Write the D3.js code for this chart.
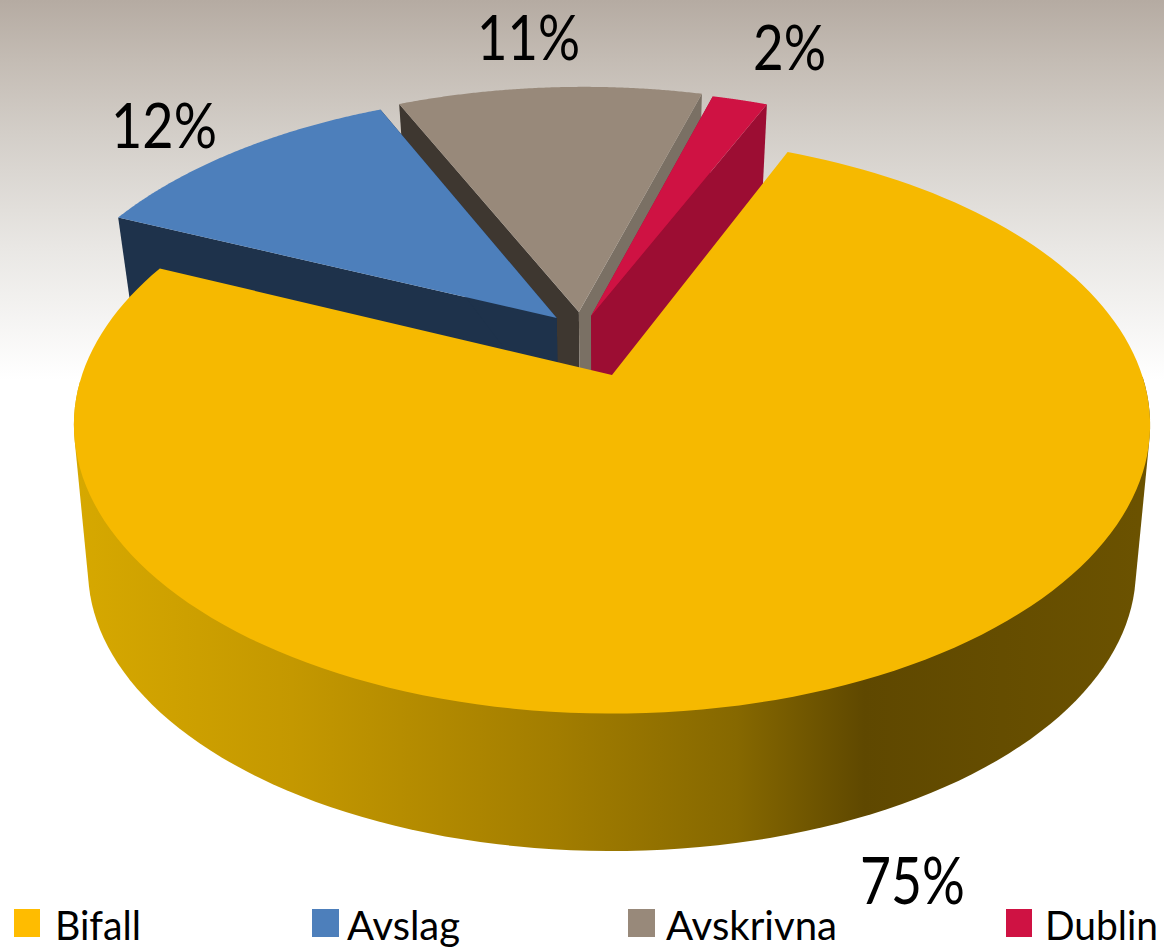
<!DOCTYPE html>
<html><head><meta charset="utf-8">
<script src="https://cdnjs.cloudflare.com/ajax/libs/d3/7.8.5/d3.min.js"></script>
<style>html,body{margin:0;padding:0;background:#fff;overflow:hidden}svg{display:block}text{font-family:Lato,"Open Sans",sans-serif;fill:#000}</style>
</head><body><svg id="c" width="1164" height="949"></svg>
<script>
const categories = ["Bifall","Avslag","Avskrivna","Dublin"];
const values = [75.4,11.6,11,2];
const labels = ["75%","12%","11%","2%"];
const colors = ["#F6B900","#4D7FBB","#98897A","#CF1243"];
const startWall = ["#6B5200","#1E324B","#3E3730","#9C0D33"];
const endWall = ["#6B5200","#1E324B","#7A7064","#9C0D33"];
// exploded offset and radius of each slice in the pie's plane (layout, unit radius)
const offsetX = [0,-0.108,-0.065,-0.041];
const offsetY = [0,-0.211,-0.234,-0.219];
const sliceRadius = [1,1.012,1.018,1.02];
const labelBox = [[860,904,105,66],[111,148,106,62],[477,60,103,62],[753,70,73,62]]; // x, baseline, width, size
const legendX = [14,312,628,1006];
const legendTextX = [55,347,666,1045];
const legendTextW = [86,113,171,113];

const svg = d3.select("#c");
const defs = svg.append("defs");
const bg = defs.append("linearGradient").attr("id","bg").attr("x1",0).attr("x2",0).attr("y1",0).attr("y2",1);
[[0,"#B5ABA2"],[.16,"#C4BCB4"],[.35,"#D3CEC8"],[.65,"#E9E7E4"],[1,"#FFFFFF"]].forEach(s=>bg.append("stop").attr("offset",s[0]).attr("stop-color",s[1]));
const wall = defs.append("linearGradient").attr("id","wall").attr("gradientUnits","userSpaceOnUse").attr("x1",80).attr("x2",1140).attr("y1",0).attr("y2",0);
[[0,"#D6A800"],[.2,"#C49800"],[.45,"#A27D00"],[.62,"#866800"],[.74,"#5F4800"],[1,"#6B5200"]].forEach(s=>wall.append("stop").attr("offset",s[0]).attr("stop-color",s[1]));
svg.append("rect").attr("width",1164).attr("height",380).attr("fill","url(#bg)");

const k=0.173, cx=612;
const top_ = (X,Y)=>[cx+530*X/(1-k*Y), 375+280*Y/(1-k*Y)];
const bot_ = (X,Y)=>[cx+516*X/(1-k*Y), 481.6+305*Y/(1-k*Y)];
const botFront = (X,Y)=>[cx+516*X/(1-k*Y), 521.4+272.6*Y/(1-k*Y)];
const line = d3.line();
const pie = d3.pie().sort(null).startAngle(22.6*Math.PI/180).endAngle((22.6+360)*Math.PI/180);
const arcs = pie(values).map((d,i)=>({...d,i}));
const pt = (d,a,proj)=>{
  const r=sliceRadius[d.i];
  return proj(offsetX[d.i]+(a===null?0:r*Math.sin(a)),offsetY[d.i]+(a===null?0:-r*Math.cos(a)));
};
const angles = d=>d3.range(0,161).map(j=>d.startAngle+(d.endAngle-d.startAngle)*j/160);

[2,3,1,0].forEach(i=>{
  const d=arcs[i], g=svg.append("g");
  if(i===0){
    // outer wall: the hull of the near half of the top and bottom rims
    const front=angles(d).filter(a=>a>=Math.PI/2 && a<=Math.PI*1.5);
    const hull=d3.polygonHull(front.map(a=>pt(d,a,top_)).concat(front.map(a=>pt(d,a,botFront))));
    g.append("path").attr("fill","url(#wall)").attr("d",line(hull)+"Z");
  } else {
    g.append("path").attr("fill",startWall[i]).attr("d",line([pt(d,null,top_),pt(d,d.startAngle,top_),pt(d,d.startAngle,bot_),pt(d,null,bot_)])+"Z");
    g.append("path").attr("fill",endWall[i]).attr("d",line([pt(d,null,top_),pt(d,d.endAngle,top_),pt(d,d.endAngle,bot_),pt(d,null,bot_)])+"Z");
  }
  g.append("path").attr("fill",colors[i]).attr("d",line([pt(d,null,top_)].concat(angles(d).map(a=>pt(d,a,top_))))+"Z");
});

labels.forEach((t,i)=>{
  const b=labelBox[i];
  svg.append("text").attr("x",b[0]).attr("y",b[1]).attr("font-size",b[3]).attr("textLength",b[2]).attr("lengthAdjust","spacingAndGlyphs").text(t);
});
categories.forEach((t,i)=>{
  svg.append("rect").attr("x",legendX[i]).attr("y",909).attr("width",i===1||i===2?27:26).attr("height",28).attr("fill",i===0?"#FFBC00":colors[i]);
  svg.append("text").attr("x",legendTextX[i]).attr("y",940).attr("font-size",41).attr("textLength",legendTextW[i]).attr("lengthAdjust","spacingAndGlyphs").text(t);
});
</script></body></html>
